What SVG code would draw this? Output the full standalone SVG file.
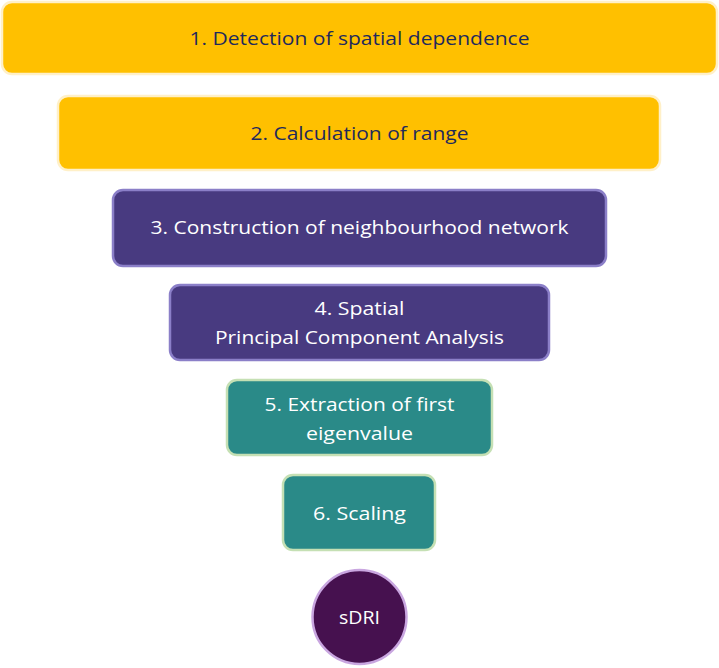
<svg xmlns="http://www.w3.org/2000/svg" width="719" height="668" viewBox="0 0 719 668">
<style>
.y rect{fill:#FFC000;stroke:#FFF0C8;stroke-width:2.5}
.p rect{fill:#483A80;stroke:#8B7FC8;stroke-width:2.5}
.g rect{fill:#2A8A88;stroke:#C5E0B4;stroke-width:2.5}
text{font-family:"Open Sans","Liberation Sans",sans-serif;font-size:19px;text-anchor:middle}
.y text{fill:#1F2A5C}
.p text,.g text,.c text{fill:#FFFFFF}
</style>
<rect width="719" height="668" fill="#FFFFFF"/>
<g id="connectors"></g>
<g id="n1" class="y"><rect x="2" y="2" width="715" height="72" rx="10"/><text x="359.5" y="45" textLength="340" lengthAdjust="spacingAndGlyphs">1. Detection of spatial dependence</text></g>
<g id="n2" class="y"><rect x="58" y="96" width="602" height="74" rx="10"/><text x="359.5" y="140" textLength="218" lengthAdjust="spacingAndGlyphs">2. Calculation of range</text></g>
<g id="n3" class="p"><rect x="113" y="190" width="493" height="76" rx="10"/><text x="359.5" y="234" textLength="418" lengthAdjust="spacingAndGlyphs">3. Construction of neighbourhood network</text></g>
<g id="n4" class="p"><rect x="170" y="285" width="379" height="75" rx="10"/><text x="359.5" y="315" textLength="90" lengthAdjust="spacingAndGlyphs">4. Spatial</text><text x="359.5" y="344" textLength="289" lengthAdjust="spacingAndGlyphs">Principal Component Analysis</text></g>
<g id="n5" class="g"><rect x="227" y="380" width="265" height="75" rx="10"/><text x="359.5" y="411" textLength="190" lengthAdjust="spacingAndGlyphs">5. Extraction of first</text><text x="359.5" y="440" textLength="107" lengthAdjust="spacingAndGlyphs">eigenvalue</text></g>
<g id="n6" class="g"><rect x="283" y="475" width="152" height="75" rx="10"/><text x="359.5" y="520" textLength="93" lengthAdjust="spacingAndGlyphs">6. Scaling</text></g>
<g id="n7" class="c"><circle cx="359.5" cy="617" r="47" fill="#46114F" stroke="#C9A6E0" stroke-width="2.5"/><text x="359.5" y="624" textLength="41" lengthAdjust="spacingAndGlyphs">sDRI</text></g>
</svg>
